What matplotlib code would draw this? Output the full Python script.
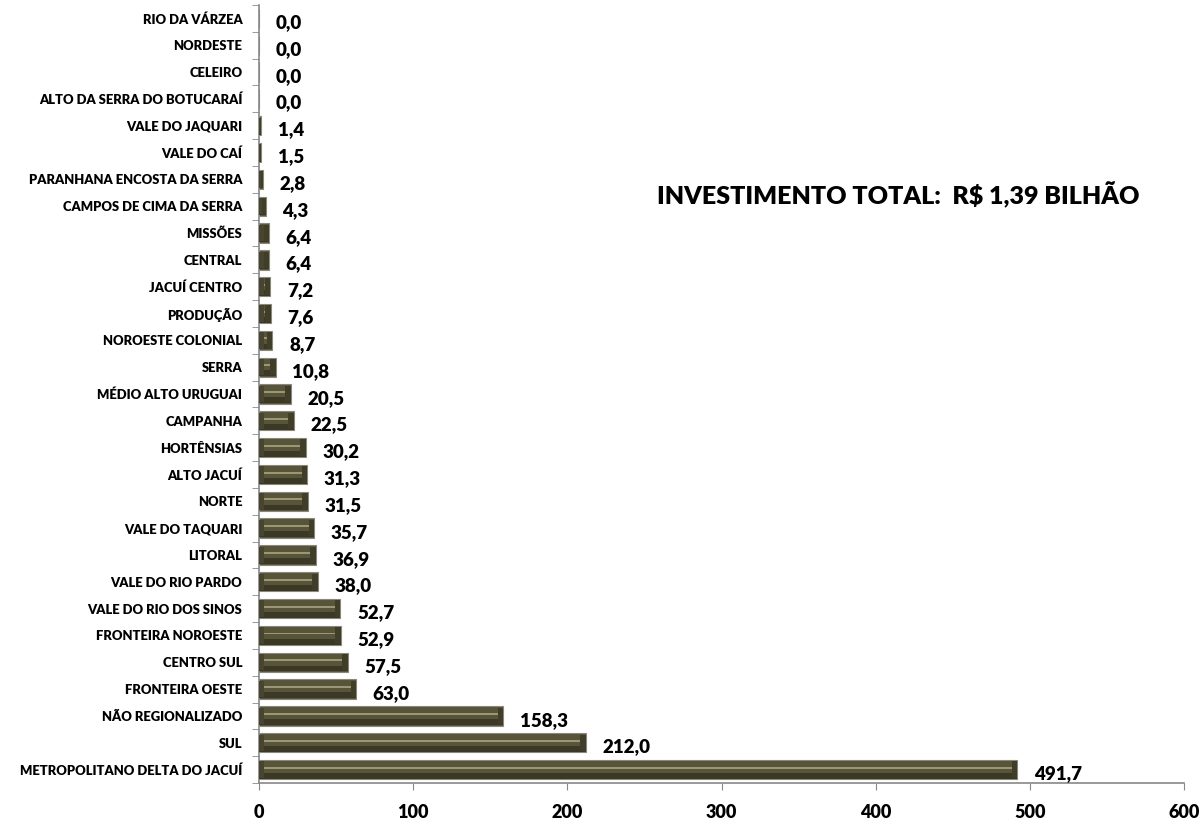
import numpy as np
import matplotlib
matplotlib.use('Agg')
import matplotlib.pyplot as plt
from matplotlib.ticker import FixedLocator

plt.rcParams['font.family'] = ['Lato', 'DejaVu Sans']

# categories listed from top to bottom as in the chart
regions = [
    "RIO DA VÁRZEA", "NORDESTE", "CELEIRO", "ALTO DA SERRA DO BOTUCARAÍ",
    "VALE DO JAQUARI", "VALE DO CAÍ", "PARANHANA ENCOSTA DA SERRA",
    "CAMPOS DE CIMA DA SERRA", "MISSÕES", "CENTRAL", "JACUÍ CENTRO",
    "PRODUÇÃO", "NOROESTE COLONIAL", "SERRA", "MÉDIO ALTO URUGUAI",
    "CAMPANHA", "HORTÊNSIAS", "ALTO JACUÍ", "NORTE", "VALE DO TAQUARI",
    "LITORAL", "VALE DO RIO PARDO", "VALE DO RIO DOS SINOS",
    "FRONTEIRA NOROESTE", "CENTRO SUL", "FRONTEIRA OESTE",
    "NÃO REGIONALIZADO", "SUL", "METROPOLITANO DELTA DO JACUÍ",
]
values = [
    0.0, 0.0, 0.0, 0.0, 1.4, 1.5, 2.8, 4.3, 6.4, 6.4, 7.2, 7.6, 8.7, 10.8,
    20.5, 22.5, 30.2, 31.3, 31.5, 35.7, 36.9, 38.0, 52.7, 52.9, 57.5, 63.0,
    158.3, 212.0, 491.7,
]
x_ticks = [0, 100, 200, 300, 400, 500, 600]
title_text = "INVESTIMENTO TOTAL:  R$ 1,39 BILHÃO"

fig = plt.figure(figsize=(12.04, 8.23), dpi=100, facecolor='white')
ax = fig.add_axes([259 / 1204, 1 - 783 / 823, (1184 - 259) / 1204, (783 - 5) / 823])

n = len(regions)
y = np.arange(n)[::-1]
vals = np.array(values)
h = 0.72

# beveled bar look: olive body, darker lower band, light stripe, shaded end caps
ax.barh(y, vals, height=h, color='#57543a', edgecolor='#8a887a', linewidth=0.8, zorder=2)
ax.barh(y - h * 0.32, vals, height=h * 0.3, color='#3b3926', linewidth=0, zorder=3)
cap = np.minimum(vals / 2, 3.5)
ax.barh(y, cap, height=h * 0.85, color='#47442f', linewidth=0, zorder=4)
ax.barh(y, cap, left=vals - cap, height=h * 0.85, color='#403d29', linewidth=0, zorder=4)
ax.barh(y + h * 0.1, np.maximum(vals - 2 * cap, 0), left=cap, height=h * 0.1,
        color='#9a9774', linewidth=0, zorder=5)

for yi, v in zip(y, vals):
    ax.annotate(f"{v:.1f}".replace('.', ','), xy=(v, yi), xytext=(12, -3),
                textcoords='offset points', ha='left', va='center',
                fontsize=13.5, fontweight='heavy', color='black')

ax.set_xlim(0, 600)
ax.set_ylim(-0.5, n - 0.5)
ax.set_xticks(x_ticks)
ax.set_xticklabels([str(t) for t in x_ticks], fontsize=13, fontweight='heavy')
ax.set_yticks(y)
ax.set_yticklabels(regions, fontsize=9.35, fontweight='heavy')
ax.yaxis.set_minor_locator(FixedLocator(np.arange(n + 1) - 0.5))
ax.tick_params(axis='y', which='major', length=0, pad=12)
ax.tick_params(axis='y', which='minor', length=5, color='#888888', direction='out')
ax.tick_params(axis='x', length=5, color='#888888', direction='out', pad=10)

for side in ['top', 'right']:
    ax.spines[side].set_visible(False)
for side in ['left', 'bottom']:
    ax.spines[side].set_color('#888888')
    ax.spines[side].set_linewidth(1.2)

fig.text(898 / 1204, 1 - 195 / 823, title_text, ha='center', va='center',
         fontsize=18, fontweight='heavy', color='black')

fig.savefig('out.png', dpi=100, facecolor='white')
